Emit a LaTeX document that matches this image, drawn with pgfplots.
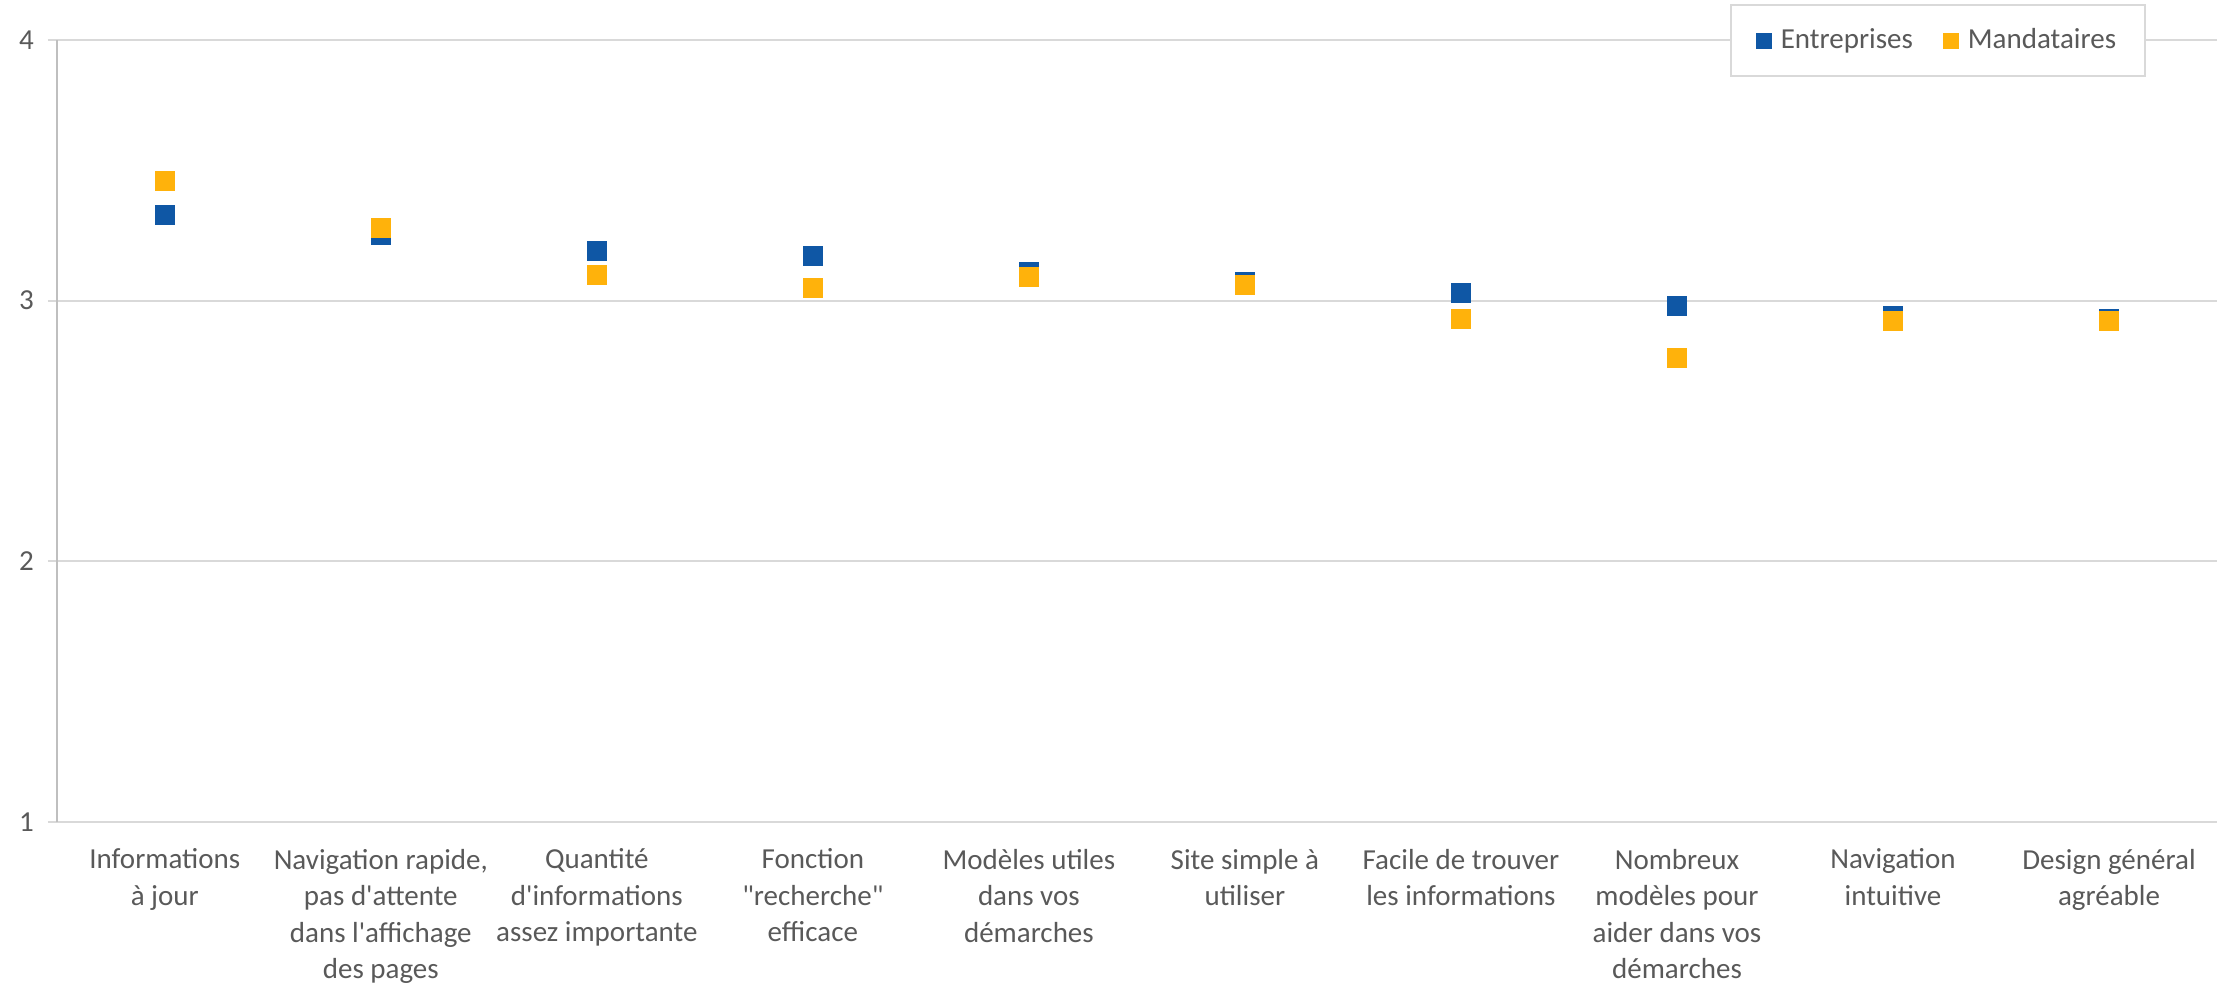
\documentclass[border=0pt]{standalone}
\usepackage{fontspec}
\setmainfont{Carlito}[Ligatures=TeXOff]
\usepackage{pgfplots}
\pgfplotsset{compat=1.18}
\definecolor{entr}{HTML}{0F57A5}
\definecolor{mand}{HTML}{FFB20B}
\definecolor{txt}{HTML}{595959}
\definecolor{gridc}{HTML}{D9D9D9}
\definecolor{axisc}{HTML}{BFBFBF}

\begin{document}
\begin{tikzpicture}
\begin{axis}[
  scale only axis,
  width=864pt, height=313pt,
  xmin=-0.5, xmax=9.5,
  ymin=1, ymax=4,
  xtick={0,...,9},
  ytick={1,2,3,4},
  xticklabels={
    {Informations\\à jour},
    {Navigation rapide,\\pas d'attente\\dans l'affichage\\des pages},
    {Quantité\\d'informations\\assez importante},
    {Fonction\\"recherche"\\efficace},
    {Modèles utiles\\dans vos\\démarches},
    {Site simple à\\utiliser},
    {Facile de trouver\\les informations},
    {Nombreux\\modèles pour\\aider dans vos\\démarches},
    {Navigation\\intuitive},
    {Design général\\agréable}},
  axis x line*=bottom,
  axis y line*=left,
  x axis line style={draw=none},
  y axis line style={axisc, line width=0.8pt, -},
  ymajorgrids,
  grid style={gridc, line width=0.8pt},
  tick align=outside,
  xtick style={draw=none},
  ytick style={gridc, line width=0.8pt},
  major tick length=3.6pt,
  /pgf/number format/assume math mode=true,
  tick label style={font=\fontsize{11.6}{14.6}\selectfont, text=txt},
  xticklabel style={align=center, yshift=-3.5pt},
  yticklabel style={xshift=-2pt},
  legend style={at={(0.9672,1.0456)}, anchor=north east,
    draw=gridc, line width=0.8pt, fill=white,
    font=\fontsize{11.6}{14.6}\selectfont, text=txt,
    inner xsep=10pt, inner ysep=7.8pt,
    nodes={inner sep=1.6pt},
    /tikz/every odd column/.append style={column sep=2pt},
    /tikz/every even column/.append style={column sep=10.4pt}},
  legend columns=2,
  legend image code/.code={\fill[#1, draw=none] (0pt,-3.2pt) rectangle (6.4pt,3.2pt);},
]
\addplot[only marks, mark=square*, mark size=3.8pt, color=entr, fill=entr] coordinates {
  (0,3.33) (1,3.25) (2,3.19) (3,3.17) (4,3.11)
  (5,3.07) (6,3.03) (7,2.98) (8,2.94) (9,2.93)
};
\addlegendentry{Entreprises}
\addplot[only marks, mark=square*, mark size=3.8pt, color=mand, fill=mand] coordinates {
  (0,3.46) (1,3.28) (2,3.10) (3,3.05) (4,3.09)
  (5,3.06) (6,2.93) (7,2.78) (8,2.92) (9,2.92)
};
\addlegendentry{Mandataires}
\coordinate (sw) at (rel axis cs:0,0);
\coordinate (ne) at (rel axis cs:1,1);
\end{axis}
\pgfresetboundingbox
\path[use as bounding box] ([shift={(-22.7pt,-65.2pt)}]sw) rectangle ([shift={(1.6pt,15.9pt)}]ne);
\end{tikzpicture}
\end{document}
